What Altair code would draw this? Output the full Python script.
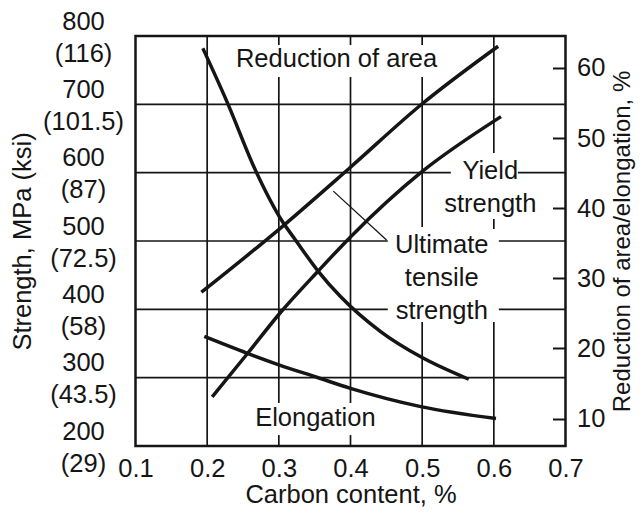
import altair as alt
import pandas as pd

# ---- data ----
# Ultimate tensile strength (MPa) vs carbon content (%)
carbon_uts = [0.192, 0.299, 0.400, 0.498, 0.606]
uts_mpa = [425, 516, 608, 699, 785]
# Yield strength (MPa)
carbon_ys = [0.207, 0.256, 0.302, 0.354, 0.400, 0.498, 0.610]
ys_mpa = [272, 335, 395, 455, 506, 600, 682]
# Reduction of area (%)
carbon_ra = [0.194, 0.228, 0.267, 0.305, 0.323, 0.355, 0.386, 0.442, 0.498, 0.565]
ra_pct = [62.8, 55.1, 45.5, 38.1, 35.5, 31.0, 27.4, 22.4, 18.8, 15.6]
# Elongation (%)
carbon_el = [0.196, 0.256, 0.299, 0.354, 0.400, 0.498, 0.603]
el_pct = [21.7, 19.3, 17.7, 15.85, 14.3, 11.7, 10.0]

# axes
x_ticks = [0.1, 0.2, 0.3, 0.4, 0.5, 0.6, 0.7]
mpa_ticks = [200, 300, 400, 500, 600, 700, 800]
ksi_labels = ["(29)", "(43.5)", "(58)", "(72.5)", "(87)", "(101.5)", "(116)"]
pct_ticks = [10, 20, 30, 40, 50, 60]

# grid segments (interrupted by the text labels)
vgrid_c = [0.2, 0.3, 0.3, 0.3, 0.4, 0.4, 0.4, 0.5, 0.5, 0.5, 0.6, 0.6, 0.6]
vgrid_lo = [200, 200, 263, 786.8, 200, 263, 786.8, 200, 520.5, 786.8, 200, 517.6, 628.8]
vgrid_hi = [800, 216, 740, 800, 216, 740, 800, 381.5, 740, 800, 381.5, 532.2, 800]
hgrid_mpa = [700, 300, 600, 600, 500, 500, 400, 400]
hgrid_c1 = [0.1, 0.1, 0.1, 0.6336, 0.1, 0.607, 0.1, 0.607]
hgrid_c2 = [0.7, 0.7, 0.54, 0.7, 0.452, 0.7, 0.452, 0.7]

# leader line from label to UTS curve
leader_c = [0.376]
leader_c2 = [0.4503]
leader_mpa = [573]
leader_mpa2 = [501.5]

# curve labels (position = first line)
label_text = ["Reduction of area", "Yield\nstrength", "Ultimate\ntensile\nstrength", "Elongation"]
label_c = [0.3806, 0.595, 0.5273, 0.351]
label_mpa = [766, 602.4, 494.1, 241]

FONT = "Liberation Sans"
INK = "#151515"
FS = 25.5

x_scale = alt.Scale(domain=[0.1, 0.7], nice=False, zero=False)
y_left = alt.Scale(domain=[200, 800], nice=False, zero=False)
y_right = alt.Scale(domain=[6.08, 64.56], nice=False, zero=False)

expr = ""
for v, k in zip(mpa_ticks, ksi_labels):
    expr += f"datum.value == {v} ? ['{v}', '{k}'] : "
expr += "''"

x_axis = alt.Axis(values=x_ticks, format=".1f", title="Carbon content, %",
                  ticks=False, domain=False, grid=False, labelFlush=False,
                  labelPadding=10, titlePadding=1, labelFontSize=FS,
                  titleFontSize=FS, titleFontWeight="normal", labelOverlap=False)
left_axis = alt.Axis(values=mpa_ticks, labelExpr=expr, labelAlign="center",
                     labelBaseline="middle", labelPadding=52.5, labelLineHeight=32,
                     labelOffset=-15,
                     labelFontSize=FS, labelOverlap=False, labelFlush=False,
                     ticks=False, domain=False, grid=False,
                     title="Strength, MPa (ksi)", titleFontSize=FS,
                     titleFontWeight="normal", titlePadding=7)
right_axis = alt.Axis(orient="right", values=pct_ticks, offset=-13, tickSize=13,
                      tickWidth=2, tickColor=INK, domain=False, grid=False,
                      labelPadding=11, labelFontSize=FS, labelFlush=False,
                      labelOverlap=False,
                      title="Reduction of area/elongation, %", titleAngle=270,
                      titleBaseline="top", titleFontSize=24,
                      titleFontWeight="normal", titlePadding=6)

df_h = pd.DataFrame({"c": hgrid_c1, "c2": hgrid_c2, "mpa": hgrid_mpa})
df_v = pd.DataFrame({"c": vgrid_c, "mpa": vgrid_lo, "mpa2": vgrid_hi})
df_str = pd.DataFrame({
    "series": ["UTS"] * len(carbon_uts) + ["Yield"] * len(carbon_ys),
    "c": carbon_uts + carbon_ys,
    "mpa": uts_mpa + ys_mpa,
})
df_pct = pd.DataFrame({
    "series": ["RA"] * len(carbon_ra) + ["El"] * len(carbon_el),
    "c": carbon_ra + carbon_el,
    "pct": ra_pct + el_pct,
})
df_lead = pd.DataFrame({"c": leader_c, "c2": leader_c2, "mpa": leader_mpa, "mpa2": leader_mpa2})
df_lab = pd.DataFrame({"label": label_text, "c": label_c, "mpa": label_mpa})

X = alt.X("c:Q", scale=x_scale, axis=x_axis)
YL = alt.Y("mpa:Q", scale=y_left, axis=left_axis)

h_rules = alt.Chart(df_h).mark_rule(color=INK, strokeWidth=1.7).encode(
    x=X, x2="c2:Q", y=YL,
)
v_rules = alt.Chart(df_v).mark_rule(color=INK, strokeWidth=1.7).encode(
    x=X, y=YL, y2="mpa2:Q",
)
strength = alt.Chart(df_str).mark_line(color=INK, strokeWidth=3.5, interpolate="monotone").encode(
    x=X, y=YL, detail="series:N",
)
leader = alt.Chart(df_lead).mark_rule(color=INK, strokeWidth=1.3).encode(
    x=X, x2="c2:Q", y=YL, y2="mpa2:Q",
)
labels = alt.Chart(df_lab).mark_text(font=FONT, fontSize=FS, color=INK, lineBreak="\n",
                                     lineHeight=33, align="center", baseline="middle").encode(
    x=X, y=YL, text="label:N",
)
left_group = alt.layer(h_rules, v_rules, strength, leader, labels)

pct_lines = alt.Chart(df_pct).mark_line(color=INK, strokeWidth=3.5, interpolate="monotone").encode(
    x=X,
    y=alt.Y("pct:Q", scale=y_right, axis=right_axis),
    detail="series:N",
)
right_group = alt.layer(pct_lines)

chart = alt.layer(left_group, right_group).resolve_scale(y="independent").properties(
    width=430, height=410,
    autosize=alt.AutoSizeParams(type="none"),
    padding={"left": 127.5, "top": 28, "right": 70, "bottom": 61},
    background="white",
).configure_view(stroke=INK, strokeWidth=2.5).configure_axis(
    labelFont=FONT, titleFont=FONT, labelColor=INK, titleColor=INK,
)

chart.save("out.html", embed_options={"renderer": "svg", "actions": False})
